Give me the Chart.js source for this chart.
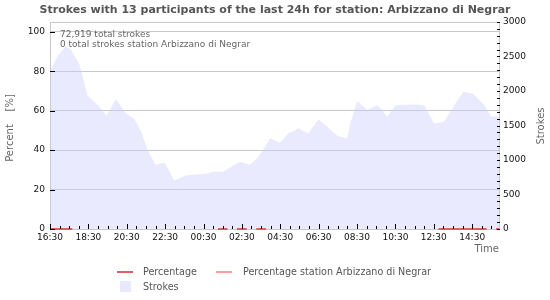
<!DOCTYPE html>
<html>
<head>
<meta charset="utf-8">
<script src="https://cdn.jsdelivr.net/npm/chart.js@4"></script>
<style>
  body { margin: 0; background: #fff; font-family: "DejaVu Sans", sans-serif; }
  #wrap { position: relative; width: 550px; height: 300px; }
  #legend { position: absolute; left: 0; top: 0; width: 550px; height: 300px; pointer-events: none; }
  .lg { position: absolute; font-size: 9.6px; color: #555; white-space: nowrap; line-height: 10px; }
  .sw { position: absolute; }
</style>
</head>
<body>
<div id="wrap">
  <canvas id="chart" width="550" height="300"></canvas>
  <div id="legend"></div>
</div>
<script>
// Stroke counts (right axis)
const strokeTimes = ['16:30', '16:53', '17:19', '17:35', '18:01', '18:11', '18:27', '18:48', '19:09', '19:27',
    '19:56', '20:28', '20:54', '21:15', '21:35', '22:00', '22:28', '22:44', '22:59', '23:31',
    '00:02', '00:39', '01:00', '01:31', '01:58', '02:24', '02:55', '03:21', '03:42', '03:58',
    '04:29', '04:55', '05:27', '05:58', '06:29', '06:56', '07:28', '07:59', '08:09', '08:30',
    '09:02', '09:33', '09:44', '10:05', '10:31', '11:34', '12:00', '12:31', '13:02', '13:34',
    '14:02', '14:32', '15:08', '15:29', '15:54'];
const strokeCounts = [2280, 2500, 2650, 2600, 2400, 2230, 1940, 1845, 1750, 1640,
    1885, 1675, 1595, 1410, 1145, 930, 965, 830, 700, 770,
    790, 800, 830, 830, 905, 975, 930, 1040, 1190, 1315,
    1250, 1385, 1460, 1385, 1590, 1490, 1350, 1315, 1530, 1855,
    1725, 1795, 1750, 1630, 1795, 1805, 1795, 1530, 1555, 1795,
    1990, 1965, 1795, 1630, 1630];

// Percentage series: short runs at 0, gaps in between
const pctTimes = ['16:30', '17:40', '17:45', '01:15', '01:45', '01:50', '02:15', '02:45', '02:50',
    '03:15', '03:45', '03:50', '12:45', '15:15', '15:20', '15:45', '15:54'];
const pctValues = [0, 0, null, 0, 0, null, 0, 0, null, 0, 0, null, 0, 0, null, 0, 0];
const pctStationTimes = [];
const pctStationValues = [];

const leftTicks = [0, 20, 40, 60, 80, 100];
const rightTicks = [0, 500, 1000, 1500, 2000, 2500, 3000];
const xLabelTimes = ['16:30', '18:30', '20:30', '22:30', '00:30', '02:30', '04:30', '06:30', '08:30', '10:30', '12:30', '14:30'];

const totalText = ['72,919 total strokes', '0 total strokes station Arbizzano di Negrar'];
const titleText = 'Strokes with 13 participants of the last 24h for station: Arbizzano di Negrar';

// hours after 16:30
function toHours(t) {
    const [h, m] = t.split(':').map(Number);
    let v = h + m / 60 - 16.5;
    if (v < 0) v += 24;
    return v;
}
function toLabel(v) {
    const mins = Math.round(v * 60 + 16 * 60 + 30) % 1440;
    return String(Math.floor(mins / 60)).padStart(2, '0') + ':' + String(mins % 60).padStart(2, '0');
}
const pairs = (ts, vs) => ts.map((t, i) => ({ x: toHours(t), y: vs[i] }));

const gridGray = '#c8c8c8';
const textGray = '#666';
const xLabelHours = xLabelTimes.map(toHours);
const Y_MAX = 105;

const decor = {
    id: 'decor',
    afterDraw(chart) {
        const c = chart.ctx, a = chart.chartArea;
        const xs = chart.scales.x, yl = chart.scales.y, yr = chart.scales.y1;
        c.save();
        c.strokeStyle = '#000';
        c.lineWidth = 1;
        c.beginPath();
        // x ticks every 30 min, taller at labelled ones
        for (let v = 0; v <= xs.max; v += 0.5) {
            const px = Math.round(xs.getPixelForValue(v)) + 0.5;
            const len = xLabelHours.includes(v) ? 5 : 3;
            c.moveTo(px, a.bottom);
            c.lineTo(px, a.bottom - len);
        }
        leftTicks.forEach(v => {
            const py = Math.round(yl.getPixelForValue(v)) + 0.5;
            c.moveTo(a.left, py);
            c.lineTo(a.left + 5, py);
        });
        for (let v = 0; v <= 3000; v += 100) {
            const py = Math.round(yr.getPixelForValue(v)) + 0.5;
            c.moveTo(a.right - 2, py);
            c.lineTo(a.right + 1, py);
        }
        c.stroke();

        // title
        c.fillStyle = '#555';
        c.font = 'bold 11px "DejaVu Sans"';
        c.textAlign = 'center';
        c.textBaseline = 'middle';
        c.fillText(titleText, 275, 10);

        // totals inside plot
        c.font = '9px "DejaVu Sans"';
        c.fillStyle = textGray;
        c.textAlign = 'left';
        c.fillText(totalText[0], a.left + 10, 35);
        c.fillText(totalText[1], a.left + 10, 45);

        // axis titles
        c.font = '10px "DejaVu Sans"';
        c.fillStyle = textGray;
        c.textAlign = 'center';
        c.save();
        c.translate(10, 128);
        c.rotate(-Math.PI / 2);
        c.fillText('Percent    [%]', 0, 0);
        c.restore();
        c.save();
        c.translate(541, 126);
        c.rotate(-Math.PI / 2);
        c.fillText('Strokes', 0, 0);
        c.restore();
        c.textAlign = 'right';
        c.fillText('Time', a.right, 249);
        c.restore();
    }
};

const chart = new Chart(document.getElementById('chart').getContext('2d'), {
    type: 'line',
    data: {
        datasets: [
            {
                label: 'Percentage',
                data: pairs(pctTimes, pctValues),
                yAxisID: 'y',
                borderColor: '#e06060',
                backgroundColor: '#e06060',
                borderWidth: 2,
                pointRadius: 0,
                spanGaps: false,
                clip: false,
                order: 1
            },
            {
                label: 'Percentage station Arbizzano di Negrar',
                data: pairs(pctStationTimes, pctStationValues),
                yAxisID: 'y',
                borderColor: '#ff9c9c',
                backgroundColor: '#ff9c9c',
                borderWidth: 2,
                pointRadius: 0,
                order: 2
            },
            {
                label: 'Strokes',
                data: pairs(strokeTimes, strokeCounts),
                yAxisID: 'y1',
                fill: 'origin',
                backgroundColor: 'rgba(205,205,255,0.42)',
                borderColor: 'rgba(205,205,255,0.42)',
                borderWidth: 0,
                pointRadius: 0,
                tension: 0,
                order: 3
            }
        ]
    },
    options: {
        responsive: false,
        animation: false,
        layout: { padding: { top: 22, left: 0, right: 0, bottom: 0 } },
        plugins: {
            legend: { display: false },
            tooltip: { enabled: false }
        },
        scales: {
            x: {
                type: 'linear',
                min: 0,
                max: toHours('15:54'),
                afterFit: s => { s.height = 71; },
                grid: { display: false, drawTicks: false },
                border: { display: true, color: gridGray },
                ticks: {
                    stepSize: 0.5,
                    autoSkip: false,
                    maxRotation: 0,
                    padding: 3,
                    color: '#111',
                    font: { family: 'DejaVu Sans', size: 9 },
                    callback: v => xLabelHours.includes(v) ? toLabel(v) : ''
                }
            },
            y: {
                position: 'left',
                min: 0,
                max: Y_MAX,
                afterFit: s => { s.width = 50; },
                // gridlines at the labelled values plus the top frame line
                afterBuildTicks: s => { s.ticks = leftTicks.concat([Y_MAX]).map(v => ({ value: v })); },
                grid: { color: gridGray, drawTicks: false },
                border: { display: true, color: gridGray },
                ticks: {
                    padding: 5,
                    color: '#111',
                    font: { family: 'DejaVu Sans', size: 9 },
                    callback: v => leftTicks.includes(v) ? String(v) : ''
                }
            },
            y1: {
                position: 'right',
                min: 0,
                max: 3000,
                afterFit: s => { s.width = 51; },
                afterBuildTicks: s => { s.ticks = rightTicks.map(v => ({ value: v })); },
                grid: { drawOnChartArea: false, drawTicks: false },
                border: { display: true, color: gridGray },
                ticks: {
                    padding: 4,
                    color: '#111',
                    font: { family: 'DejaVu Sans', size: 9 },
                    callback: v => String(v)
                }
            }
        }
    },
    plugins: [decor]
});

// legend built from the datasets
const legendPos = [
    { sx: 117, sy: 272, tx: 143, ty: 267, line: true },
    { sx: 216, sy: 272, tx: 243, ty: 267, line: true },
    { sx: 120, sy: 281, tx: 143, ty: 282, line: false }
];
const legend = document.getElementById('legend');
chart.data.datasets.forEach((ds, i) => {
    const p = legendPos[i];
    const sw = document.createElement('div');
    sw.className = 'sw';
    if (p.line) {
        Object.assign(sw.style, { left: p.sx + 'px', top: (p.sy - 1) + 'px', width: '16px', height: '2px', background: ds.borderColor });
    } else {
        Object.assign(sw.style, { left: p.sx + 'px', top: p.sy + 'px', width: '11px', height: '11px', background: '#e8e8ff' });
    }
    legend.appendChild(sw);
    const tx = document.createElement('div');
    tx.className = 'lg';
    tx.style.left = p.tx + 'px';
    tx.style.top = p.ty + 'px';
    tx.textContent = ds.label;
    legend.appendChild(tx);
});
</script>
</body>
</html>
